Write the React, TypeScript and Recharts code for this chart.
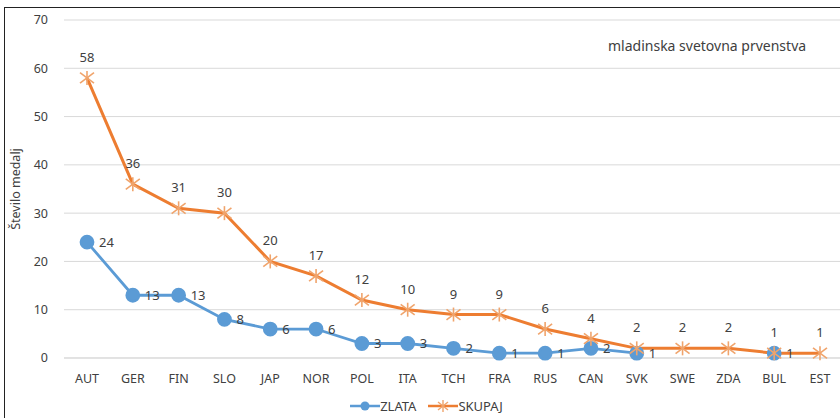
import { LineChart, Line, XAxis, YAxis, CartesianGrid, Legend, LabelList } from "recharts";

const countries = ["AUT", "GER", "FIN", "SLO", "JAP", "NOR", "POL", "ITA", "TCH", "FRA", "RUS", "CAN", "SVK", "SWE", "ZDA", "BUL", "EST"];
const zlata: (number | null)[] = [24, 13, 13, 8, 6, 6, 3, 3, 2, 1, 1, 2, 1, null, null, 1, null];
const skupaj = [58, 36, 31, 30, 20, 17, 12, 10, 9, 9, 6, 4, 2, 2, 2, 1, 1];
const yTicks = [0, 10, 20, 30, 40, 50, 60, 70];

const data = countries.map((c, i) => ({ name: c, zlata: zlata[i], skupaj: skupaj[i] }));

const BLUE = "#5B9BD5";
const ORANGE = "#ED7D31";
const TEXT = "#404040";
const FONT = "'Noto Sans', sans-serif";

const StarDot = (props: any) => {
  const { cx, cy } = props;
  if (cx == null || cy == null) return null;
  const r = 7;
  return (
    <g stroke="#F0A46C" strokeWidth={1.6}>
      <line x1={cx - r} y1={cy - r * 0.75} x2={cx + r} y2={cy + r * 0.75} />
      <line x1={cx - r} y1={cy + r * 0.75} x2={cx + r} y2={cy - r * 0.75} />
      <line x1={cx} y1={cy - r} x2={cx} y2={cy + r} />
    </g>
  );
};

const RightLabel = (props: any) => {
  const { x, y, value } = props;
  if (value == null) return null;
  return (
    <text x={x + 12} y={y} dy={4.5} fill={TEXT} fontSize={13} fontFamily={FONT}>
      {value}
    </text>
  );
};

const TopLabel = (props: any) => {
  const { x, y, value } = props;
  if (value == null) return null;
  return (
    <text x={x} y={y - 16} textAnchor="middle" fill={TEXT} fontSize={13} fontFamily={FONT}>
      {value}
    </text>
  );
};

const LegendContent = () => (
  <div style={{ display: "flex", justifyContent: "center", paddingLeft: 8, paddingTop: 9, fontFamily: FONT, fontSize: 13, color: TEXT }}>
    <svg width={30} height={14} style={{ marginTop: 2 }}>
      <line x1={0} y1={7} x2={30} y2={7} stroke={BLUE} strokeWidth={2.5} />
      <circle cx={15} cy={7} r={4.5} fill={BLUE} />
    </svg>
    <span style={{ marginRight: 12 }}>ZLATA</span>
    <svg width={30} height={14} style={{ marginTop: 2 }}>
      <line x1={0} y1={7} x2={30} y2={7} stroke={ORANGE} strokeWidth={2.5} />
      <g stroke="#F0A46C" strokeWidth={1.4}>
        <line x1={10} y1={3} x2={20} y2={11} />
        <line x1={10} y1={11} x2={20} y2={3} />
        <line x1={15} y1={1} x2={15} y2={13} />
      </g>
    </svg>
    <span>SKUPAJ</span>
  </div>
);

export default function App() {
  return (
    <div style={{ position: "absolute", left: 0, top: 0, width: 840, height: 418, overflow: "hidden", background: "#fff" }}>
      <div style={{ position: "absolute", left: 4, top: 7, width: 840, height: 420, borderLeft: "1.5px solid #222", borderTop: "1.5px solid #222" }} />
      <div style={{ position: "absolute", left: 0, top: 0 }}>
        <LineChart width={845} height={418} data={data} margin={{ top: 20, right: 0, left: 0, bottom: 0 }}>
          <CartesianGrid vertical={false} stroke="#d9d9d9" />
          <XAxis
            dataKey="name"
            axisLine={{ stroke: "#d9d9d9" }}
            tickLine={false}
            tickMargin={10}
            height={30}
            padding={{ left: 23, right: 25 }}
            tick={{ fill: TEXT, fontSize: 12.5, fontFamily: FONT }}
          />
          <YAxis
            domain={[0, 70]}
            ticks={yTicks}
            width={64}
            axisLine={false}
            tickLine={false}
            tickSize={0}
            tickMargin={16}
            tick={{ fill: TEXT, fontSize: 12.5, fontFamily: FONT }}
            label={{
              value: "Število medalj",
              angle: -90,
              position: "insideLeft",
              offset: 0,
              dx: 16,
              style: { fill: TEXT, fontSize: 12.5, fontFamily: FONT, textAnchor: "middle" },
            }}
          />
          <Legend verticalAlign="bottom" height={30} content={<LegendContent />} />
          <Line
            dataKey="zlata"
            name="ZLATA"
            stroke={BLUE}
            strokeWidth={2.8}
            dot={{ r: 6, fill: BLUE, stroke: BLUE }}
            activeDot={false}
            isAnimationActive={false}
          >
            <LabelList dataKey="zlata" content={<RightLabel />} />
          </Line>
          <Line
            dataKey="skupaj"
            name="SKUPAJ"
            stroke={ORANGE}
            strokeWidth={3}
            dot={<StarDot />}
            activeDot={false}
            isAnimationActive={false}
          >
            <LabelList dataKey="skupaj" content={<TopLabel />} />
          </Line>
        </LineChart>
      </div>
      <div style={{ position: "absolute", left: 608, top: 36, fontFamily: FONT, fontSize: 14, color: TEXT, whiteSpace: "nowrap" }}>
        mladinska svetovna prvenstva
      </div>
    </div>
  );
}
